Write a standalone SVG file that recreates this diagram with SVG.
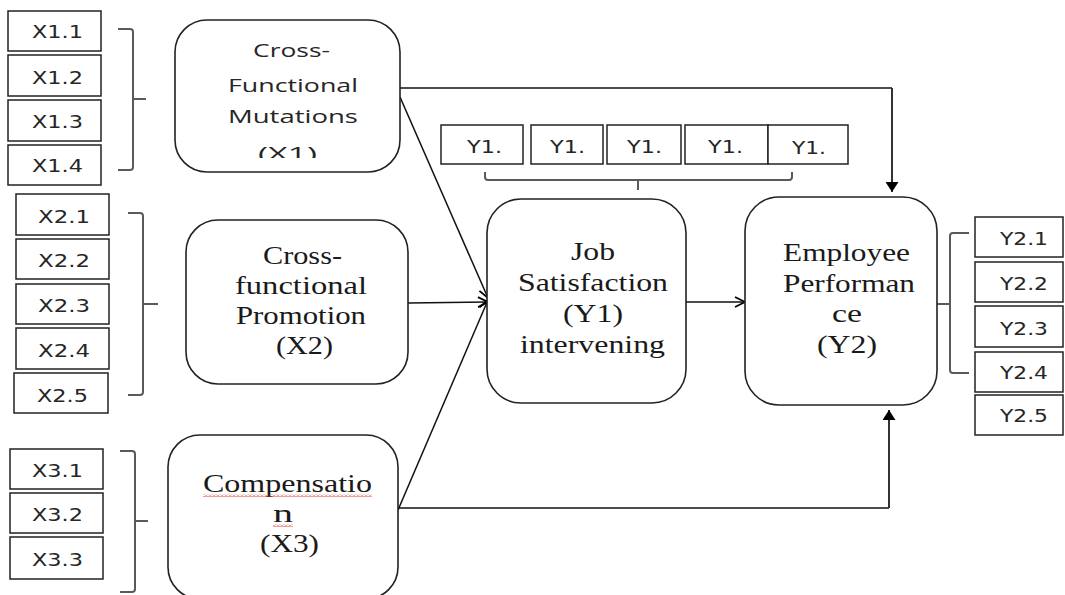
<svg xmlns="http://www.w3.org/2000/svg" width="1065" height="595" viewBox="0 0 1065 595">
<style>
.box{fill:#fff;stroke:#222;stroke-width:1.5}
.node{fill:#fff;stroke:#222;stroke-width:1.6}
.brk{fill:none;stroke:#5a5a5a;stroke-width:2}
.idx{font-family:"DejaVu Sans",Verdana,sans-serif;font-size:17px;fill:#262626}
.sans{font-family:"Open Sans","Liberation Sans",sans-serif;font-size:18px;fill:#262626}
.serif{font-family:"Liberation Serif","Times New Roman","DejaVu Serif",serif;font-size:25px;fill:#1a1a1a}
.ln{fill:none;stroke:#111;stroke-width:1.5}
.ln2{fill:none;stroke:#333;stroke-width:2}
</style>
<defs>
<marker id="open" viewBox="0 0 12 12" refX="11" refY="6" markerWidth="12" markerHeight="12" orient="auto" markerUnits="userSpaceOnUse"><path d="M1,1 L11,6 L1,11" fill="none" stroke="#000" stroke-width="1.8"/></marker>
<marker id="solid" viewBox="0 0 10 13" refX="10" refY="6.5" markerWidth="10" markerHeight="13" orient="auto" markerUnits="userSpaceOnUse"><path d="M0,0 L10,6.5 L0,13 Z" fill="#000"/></marker>
<pattern id="sq" width="4" height="3" patternUnits="userSpaceOnUse"><path d="M0,2.5 L2,0.5 L4,2.5" stroke="#e02020" fill="none" stroke-width="0.9"/></pattern>
<clipPath id="clipX1"><rect x="176" y="20" width="224" height="138"/></clipPath>
</defs>

<g id="connectors">
<path class="ln" d="M393,88 H892"/>
<path class="ln2" d="M892,88 V192" marker-end="url(#solid)"/>
<path class="ln" d="M400,97 L488,298" marker-end="url(#open)"/>
<path class="ln" d="M408,303 L488,302" marker-end="url(#open)"/>
<path class="ln" d="M398,510 L488,300" marker-end="url(#open)"/>
<path class="ln" d="M686,302 L745,302" marker-end="url(#open)"/>
<path class="ln" d="M398,508 H889"/>
<path class="ln2" d="M889,508 V410" marker-end="url(#solid)"/>
</g>

<g id="x1-indicators">
<rect class="box" x="8" y="11" width="93" height="40"/>
<rect class="box" x="8" y="55" width="93" height="41"/>
<rect class="box" x="8" y="100" width="93" height="41"/>
<rect class="box" x="8" y="145" width="93" height="40"/>
<text class="idx" x="32" y="38" textLength="51" lengthAdjust="spacingAndGlyphs">X1.1</text>
<text class="idx" x="32" y="84" textLength="51" lengthAdjust="spacingAndGlyphs">X1.2</text>
<text class="idx" x="32" y="128" textLength="51" lengthAdjust="spacingAndGlyphs">X1.3</text>
<text class="idx" x="32" y="172" textLength="51" lengthAdjust="spacingAndGlyphs">X1.4</text>
<path class="brk" d="M118,29 H130 Q133,29 133,32 V167 Q133,170 130,170 H118 M133,99 H146"/>
</g>

<g id="x2-indicators">
<rect class="box" x="16" y="194" width="93" height="41"/>
<rect class="box" x="16" y="239" width="93" height="40"/>
<rect class="box" x="16" y="284" width="93" height="40"/>
<rect class="box" x="16" y="328" width="93" height="41"/>
<rect class="box" x="14" y="373" width="94" height="40"/>
<text class="idx" x="38" y="223" textLength="52" lengthAdjust="spacingAndGlyphs">X2.1</text>
<text class="idx" x="38" y="267" textLength="52" lengthAdjust="spacingAndGlyphs">X2.2</text>
<text class="idx" x="38" y="312" textLength="52" lengthAdjust="spacingAndGlyphs">X2.3</text>
<text class="idx" x="38" y="357" textLength="52" lengthAdjust="spacingAndGlyphs">X2.4</text>
<text class="idx" x="37" y="402" textLength="51" lengthAdjust="spacingAndGlyphs">X2.5</text>
<path class="brk" d="M128,213 H140 Q143,213 143,216 V392 Q143,395 140,395 H128 M143,304 H158"/>
</g>

<g id="x3-indicators">
<rect class="box" x="10" y="449" width="93" height="40"/>
<rect class="box" x="10" y="493" width="93" height="40"/>
<rect class="box" x="10" y="537" width="93" height="42"/>
<text class="idx" x="32" y="477" textLength="51" lengthAdjust="spacingAndGlyphs">X3.1</text>
<text class="idx" x="32" y="521" textLength="51" lengthAdjust="spacingAndGlyphs">X3.2</text>
<text class="idx" x="32" y="566" textLength="51" lengthAdjust="spacingAndGlyphs">X3.3</text>
<path class="brk" d="M120,451 H132 Q135,451 135,454 V589 Q135,592 132,592 H120 M135,521 H148"/>
</g>

<g id="y1-indicators">
<rect class="box" x="441" y="125" width="82" height="39"/>
<rect class="box" x="531" y="125" width="72" height="39"/>
<rect class="box" x="607" y="125" width="74" height="39"/>
<rect class="box" x="685" y="125" width="83" height="39"/>
<rect class="box" x="768" y="125" width="80" height="39"/>
<text class="idx" x="467" y="153" textLength="35" lengthAdjust="spacingAndGlyphs">Y1.</text>
<text class="idx" x="550" y="153" textLength="35" lengthAdjust="spacingAndGlyphs">Y1.</text>
<text class="idx" x="627" y="153" textLength="35" lengthAdjust="spacingAndGlyphs">Y1.</text>
<text class="idx" x="708" y="153" textLength="35" lengthAdjust="spacingAndGlyphs">Y1.</text>
<text class="idx" x="792" y="154" textLength="34" lengthAdjust="spacingAndGlyphs">Y1.</text>
<path class="brk" d="M485,172 V177 Q485,180 488,180 H789 Q792,180 792,177 V172 M638,180 V190"/>
</g>

<g id="y2-indicators">
<rect class="box" x="975" y="217" width="88" height="40"/>
<rect class="box" x="975" y="262" width="88" height="40"/>
<rect class="box" x="975" y="306" width="88" height="41"/>
<rect class="box" x="975" y="352" width="88" height="40"/>
<rect class="box" x="975" y="395" width="88" height="40"/>
<text class="idx" x="1000" y="245" textLength="48" lengthAdjust="spacingAndGlyphs">Y2.1</text>
<text class="idx" x="1000" y="290" textLength="48" lengthAdjust="spacingAndGlyphs">Y2.2</text>
<text class="idx" x="1000" y="335" textLength="48" lengthAdjust="spacingAndGlyphs">Y2.3</text>
<text class="idx" x="1000" y="379" textLength="48" lengthAdjust="spacingAndGlyphs">Y2.4</text>
<text class="idx" x="1000" y="422" textLength="48" lengthAdjust="spacingAndGlyphs">Y2.5</text>
<path class="brk" d="M969,233 H953 Q950,233 950,236 V370 Q950,373 953,373 H969 M950,304 H935"/>
</g>

<g id="node-x1">
<rect class="node" x="175" y="20" width="225" height="152" rx="32" ry="32"/>
<text class="sans" x="253" y="57" textLength="77" lengthAdjust="spacingAndGlyphs">Cross-</text>
<text class="sans" x="228" y="92" textLength="130" lengthAdjust="spacingAndGlyphs">Functional</text>
<text class="sans" x="228" y="123" textLength="130" lengthAdjust="spacingAndGlyphs">Mutations</text>
<text class="sans" x="258" y="160" textLength="59" lengthAdjust="spacingAndGlyphs" clip-path="url(#clipX1)">(X1)</text>
</g>

<g id="node-x2">
<rect class="node" x="186" y="220" width="222" height="164" rx="32" ry="32"/>
<text class="serif" x="263" y="264" textLength="79" lengthAdjust="spacingAndGlyphs">Cross-</text>
<text class="serif" x="235" y="294" textLength="132" lengthAdjust="spacingAndGlyphs">functional</text>
<text class="serif" x="236" y="324" textLength="130" lengthAdjust="spacingAndGlyphs">Promotion</text>
<text class="serif" x="276" y="354" textLength="57" lengthAdjust="spacingAndGlyphs">(X2)</text>
</g>

<g id="node-x3">
<rect class="node" x="168" y="435" width="230" height="164" rx="32" ry="32"/>
<text class="serif" x="203" y="492" textLength="169" lengthAdjust="spacingAndGlyphs">Compensatio</text>
<rect x="203" y="494" width="169" height="3" fill="url(#sq)"/>
<text class="serif" x="273" y="522" textLength="20" lengthAdjust="spacingAndGlyphs">n</text>
<rect x="273" y="524" width="20" height="3" fill="url(#sq)"/>
<text class="serif" x="260" y="552" textLength="59" lengthAdjust="spacingAndGlyphs">(X3)</text>
</g>

<g id="node-y1">
<rect class="node" x="487" y="199" width="199" height="204" rx="34" ry="34"/>
<text class="serif" x="571" y="260" textLength="44" lengthAdjust="spacingAndGlyphs">Job</text>
<text class="serif" x="518" y="291" textLength="150" lengthAdjust="spacingAndGlyphs">Satisfaction</text>
<text class="serif" x="563" y="322" textLength="60" lengthAdjust="spacingAndGlyphs">(Y1)</text>
<text class="serif" x="520" y="353" textLength="145" lengthAdjust="spacingAndGlyphs">intervening</text>
</g>

<g id="node-y2">
<rect class="node" x="745" y="197" width="192" height="208" rx="34" ry="34"/>
<text class="serif" x="783" y="261" textLength="127" lengthAdjust="spacingAndGlyphs">Employee</text>
<text class="serif" x="783" y="292" textLength="132" lengthAdjust="spacingAndGlyphs">Performan</text>
<text class="serif" x="832" y="322" textLength="30" lengthAdjust="spacingAndGlyphs">ce</text>
<text class="serif" x="817" y="353" textLength="60" lengthAdjust="spacingAndGlyphs">(Y2)</text>
</g>
</svg>
